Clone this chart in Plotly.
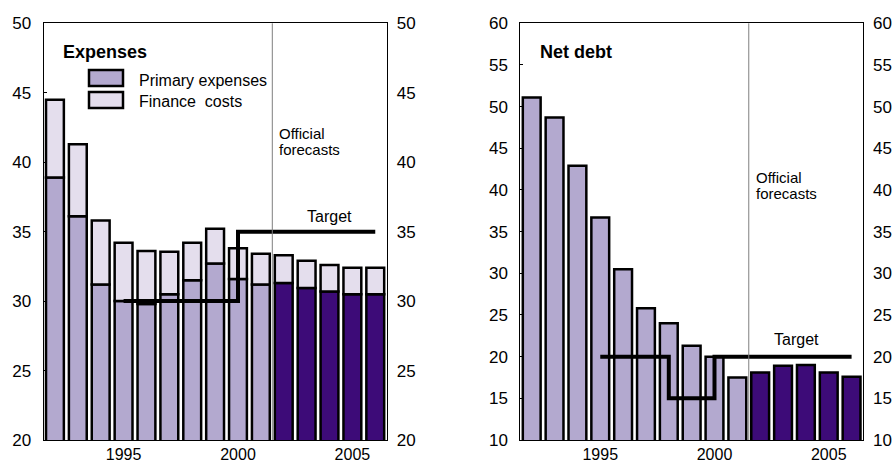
import plotly.graph_objects as go

years = list(range(1992, 2007))
primary = [38.9, 36.1, 31.2, 30.0, 29.8, 30.5, 31.5, 32.7, 31.6, 31.2, 31.3, 30.95, 30.7, 30.5, 30.5]
total = [44.5, 41.3, 35.8, 34.2, 33.6, 33.55, 34.2, 35.2, 33.8, 33.4, 33.3, 32.9, 32.6, 32.4, 32.4]
finance = [round(t - p, 2) for t, p in zip(total, primary)]
net_debt = [51.1, 48.7, 42.9, 36.7, 30.5, 25.8, 24.0, 21.3, 20.0, 17.5, 18.1, 18.9, 19.0, 18.1, 17.6]
forecast_start = 2002

exp_target_x = [1995, 2000, 2006]
exp_target_y = [30, 35, 35]
debt_target_x = [1995, 1998, 2000, 2006]
debt_target_y = [20, 15, 20, 20]

LIGHT = "#b3a9cf"
PALE = "#e4deed"
DARK = "#3d0b78"
FONT = "Liberation Sans, Arial, sans-serif"

prim_colors = [DARK if y >= forecast_start else LIGHT for y in years]

fig = go.Figure()
bar_line = dict(color="black", width=2.5)
W = 0.78

fig.add_trace(go.Bar(x=years, y=primary, marker=dict(color=prim_colors, line=bar_line),
                     width=W, xaxis="x", yaxis="y", name="Primary expenses"))
fig.add_trace(go.Bar(x=years, y=finance, base=primary, marker=dict(color=PALE, line=bar_line),
                     width=W, xaxis="x", yaxis="y", name="Finance costs"))
fig.add_trace(go.Scatter(x=exp_target_x, y=exp_target_y, mode="lines", line=dict(color="black", width=4, shape="hv"),
                         xaxis="x", yaxis="y"))

fig.add_trace(go.Bar(x=years, y=net_debt, marker=dict(color=prim_colors, line=bar_line),
                     width=W, xaxis="x2", yaxis="y2", name="Net debt"))
fig.add_trace(go.Scatter(x=debt_target_x, y=debt_target_y, mode="lines", line=dict(color="black", width=4, shape="hv"),
                         xaxis="x2", yaxis="y2"))

L_DOM = [43.5 / 896, 386.7 / 896]
R_DOM = [520.3 / 896, 863 / 896]
Y_DOM = [1 - 440 / 463, 1 - 23.3 / 463]
tick_font = dict(family=FONT, size=17, color="black")
xtick_font = dict(family=FONT, size=16, color="black")

xcommon = dict(range=[1991.5, 2006.5], tickvals=[1995, 2000, 2005], showline=True, linecolor="black",
               linewidth=1, mirror=True, ticks="", showgrid=False, zeroline=False, tickfont=xtick_font,
               automargin=False, ticklabelstandoff=0)
ycommon = dict(showline=True, linecolor="black", linewidth=1, mirror=True, ticks="inside", ticklen=3,
               tickcolor="black", showgrid=False, zeroline=False, tickfont=tick_font, domain=Y_DOM,
               automargin=False, ticklabelstandoff=8)
yright = dict(side="right", showline=False, ticks="", showgrid=False, zeroline=False, tickfont=tick_font,
              automargin=False, ticklabelstandoff=9)

fig.update_layout(
    width=896, height=463, margin=dict(l=0, r=0, t=0, b=0, autoexpand=False),
    paper_bgcolor="white", plot_bgcolor="white", showlegend=False, barmode="overlay",
    xaxis=dict(domain=L_DOM, anchor="y", **xcommon),
    yaxis=dict(range=[20, 50], dtick=5, anchor="x", **ycommon),
    yaxis3=dict(range=[20, 50], dtick=5, overlaying="y", anchor="x", **yright),
    xaxis2=dict(domain=R_DOM, anchor="y2", **xcommon),
    yaxis2=dict(range=[10, 60], dtick=5, anchor="x2", **ycommon),
    yaxis4=dict(range=[10, 60], dtick=5, overlaying="y2", anchor="x2", **yright),
)
# invisible traces to activate the right-side label axes
fig.add_trace(go.Scatter(x=[None], y=[None], xaxis="x", yaxis="y3", showlegend=False))
fig.add_trace(go.Scatter(x=[None], y=[None], xaxis="x2", yaxis="y4", showlegend=False))

# forecast dividers
for xr, yr in (("x", "y"), ("x2", "y2")):
    fig.add_shape(type="line", xref=xr, yref=yr + " domain", x0=2001.5, x1=2001.5, y0=0, y1=1,
                  line=dict(color="#7f7f7f", width=1), layer="above")


def px_x(v):
    return v / 896


def px_y(v):
    return 1 - v / 463


# legend boxes
fig.add_shape(type="rect", xref="paper", yref="paper", x0=px_x(89), x1=px_x(123), y0=px_y(86), y1=px_y(70),
              fillcolor=LIGHT, line=dict(color="black", width=2.5))
fig.add_shape(type="rect", xref="paper", yref="paper", x0=px_x(89), x1=px_x(123), y0=px_y(108), y1=px_y(92),
              fillcolor=PALE, line=dict(color="black", width=2.5))


def txt(text, x, y, size, xref="paper", yref="paper", xanchor="left", yanchor="middle", xshift=0, yshift=0):
    return dict(text=text, x=x, y=y, xref=xref, yref=yref, xanchor=xanchor, yanchor=yanchor,
                xshift=xshift, yshift=yshift, showarrow=False, align="left",
                font=dict(family=FONT, size=size, color="black"))


ann = [
    txt("<b>Expenses</b>", px_x(61), px_y(52), 18),
    txt("<b>Net debt</b>", px_x(537.5), px_y(52), 18),
    txt("Primary expenses", px_x(137), px_y(80), 16),
    txt("Finance  costs", px_x(137), px_y(101), 16),
    txt("Official", 2001.5, 42.8, 15, "x", "y", yanchor="top", xshift=5),
    txt("forecasts", 2001.5, 42.8, 15, "x", "y", yanchor="top", xshift=5, yshift=-16),
    txt("Official", 2001.5, 42.8, 15, "x2", "y2", yanchor="top", xshift=5),
    txt("forecasts", 2001.5, 42.8, 15, "x2", "y2", yanchor="top", xshift=5, yshift=-16),
    txt("Target", 2004.0, 36.1, 16, "x", "y", xanchor="center"),
    txt("Target", 2003.6, 22.1, 16, "x2", "y2", xanchor="center"),
]
fig.update_layout(annotations=ann)

fig.write_html("out.html", config={"displayModeBar": False},
               post_script="document.body.style.margin='0';document.body.style.overflow='hidden';")
